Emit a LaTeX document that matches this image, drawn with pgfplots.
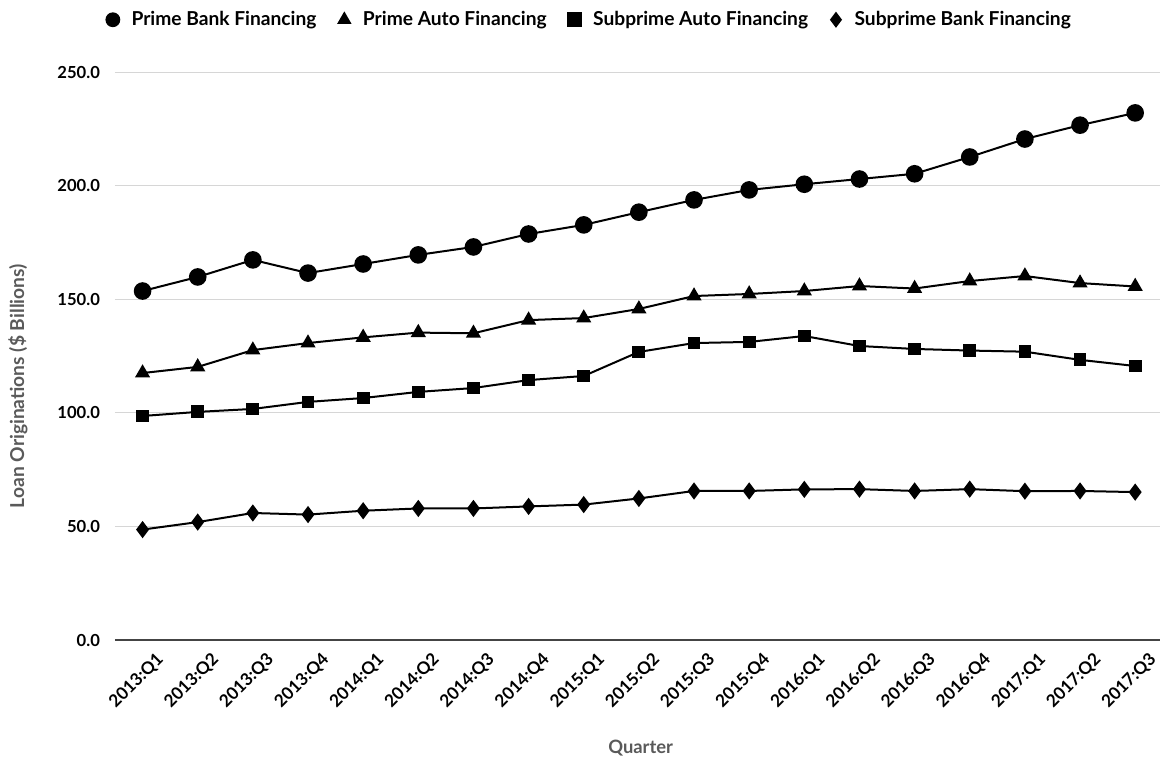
\documentclass[border=0pt]{standalone}
\usepackage{pgfplots}
\pgfplotsset{compat=1.18}
\usepackage{fontspec}
\setmainfont{Lato}
\definecolor{gridc}{HTML}{D6D6D6}
\definecolor{basec}{HTML}{444444}
\definecolor{labc}{HTML}{5A5A5A}
\begin{document}
\begin{tikzpicture}
\useasboundingbox (-57.5pt,-60.5pt) rectangle (523pt,320pt);
\begin{axis}[
  at={(0,0)}, anchor=south west,
  scale only axis, width=522.5pt, height=284pt,
  xmin=-0.5, xmax=18.45, ymin=0, ymax=250,
  font=\fontsize{8}{10}\selectfont\bfseries,
  axis x line=bottom, axis y line=left,
  x axis line style={draw=basec, line width=0.6pt, -},
  y axis line style={draw=none},
  major tick length=0pt,
  ymajorgrids, grid style={draw=gridc, line width=0.5pt},
  ytick={0,50,...,250},
  yticklabel style={/pgf/number format/.cd, fixed, fixed zerofill, precision=1, /tikz/.cd, xshift=-4pt, font=\fontsize{8.3}{10}\selectfont\bfseries},
  /pgf/number format/assume math mode=true,
  xtick={0,...,18},
  xticklabels={2013:Q1,2013:Q2,2013:Q3,2013:Q4,2014:Q1,2014:Q2,2014:Q3,2014:Q4,2015:Q1,2015:Q2,2015:Q3,2015:Q4,2016:Q1,2016:Q2,2016:Q3,2016:Q4,2017:Q1,2017:Q2,2017:Q3},
  xticklabel style={rotate=45, anchor=north east, xshift=4pt, yshift=-5pt, font=\fontsize{8.6}{10}\selectfont\bfseries},
  xlabel={Quarter}, ylabel={Loan Originations (\$ Billions)},
  every axis x label/.style={at={(axis description cs:0.503,0)}, yshift=-54pt, anchor=center, text=labc, font=\fontsize{9.2}{11}\selectfont\bfseries},
  every axis y label/.style={at={(axis description cs:0,0.447)}, xshift=-48.5pt, rotate=90, anchor=center, text=labc, font=\fontsize{9.6}{11}\selectfont\bfseries},
  legend columns=4,
  legend style={draw=none, fill=none, at={(axis description cs:0.4545,1.092)}, anchor=center, /tikz/every even column/.append style={column sep=8pt}, font=\fontsize{9.6}{11}\selectfont\bfseries},
  legend image code/.code={\draw[#1, mark size=3.2pt] plot[only marks] coordinates {(0cm,0cm)}; \path (-0.12cm,0) (0.24cm,0);},
  every axis plot/.append style={black, line width=1pt, mark options={solid, fill=black}},
]
\addplot[mark=*, mark size=3.9pt] coordinates {
(0,153.6)(1,159.8)(2,167.3)(3,161.5)(4,165.5)(5,169.5)(6,173.0)(7,178.7)(8,182.7)(9,188.3)(10,193.7)(11,198.1)(12,200.6)(13,202.9)(14,205.2)(15,212.6)(16,220.5)(17,226.6)(18,232.0)};
\addlegendentry{Prime Bank Financing}
\addplot[mark=triangle*, mark size=3.4pt] coordinates {
(0,117.5)(1,120.2)(2,127.6)(3,130.7)(4,133.2)(5,135.3)(6,135.0)(7,140.8)(8,141.7)(9,145.7)(10,151.4)(11,152.3)(12,153.6)(13,155.8)(14,154.7)(15,158.0)(16,160.2)(17,157.1)(18,155.6)};
\addlegendentry{Prime Auto Financing}
\addplot[mark=square*, mark size=2.7pt] coordinates {
(0,98.6)(1,100.4)(2,101.7)(3,104.8)(4,106.5)(5,109.2)(6,110.9)(7,114.4)(8,116.2)(9,126.8)(10,130.7)(11,131.2)(12,133.8)(13,129.4)(14,128.1)(15,127.4)(16,126.9)(17,123.3)(18,120.6)};
\addlegendentry{Subprime Auto Financing}
\addplot[mark=diamond*, mark size=3.5pt] coordinates {
(0,48.6)(1,51.9)(2,55.9)(3,55.2)(4,56.9)(5,57.9)(6,57.9)(7,58.8)(8,59.6)(9,62.3)(10,65.6)(11,65.6)(12,66.3)(13,66.4)(14,65.6)(15,66.4)(16,65.5)(17,65.6)(18,65.1)};
\addlegendentry{Subprime Bank Financing}
\end{axis}
\end{tikzpicture}
\end{document}
